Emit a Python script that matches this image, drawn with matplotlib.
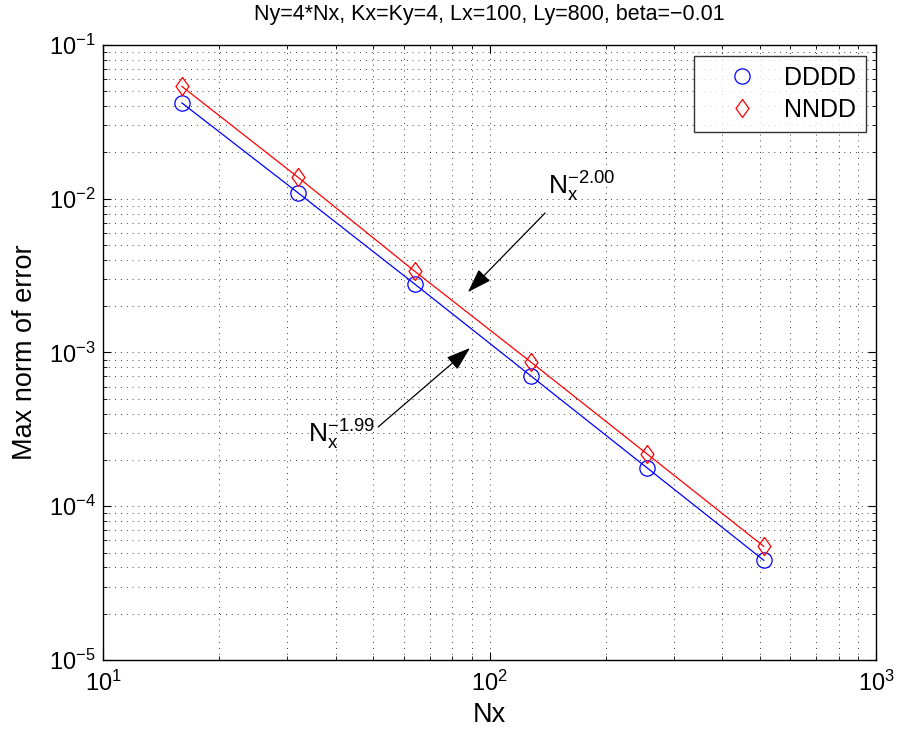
import matplotlib.pyplot as plt

plt.rcParams['font.family'] = ['Liberation Sans', 'DejaVu Sans']
plt.rcParams['mathtext.fontset'] = 'custom'
plt.rcParams['mathtext.rm'] = 'Liberation Sans'
plt.rcParams['mathtext.it'] = 'Liberation Sans:italic'
plt.rcParams['mathtext.bf'] = 'Liberation Sans:bold'

# Grid sizes and measured errors
nx = [16, 32, 64, 128, 256, 512]
err_dddd = [0.0420, 0.0109, 0.00279, 0.000703, 0.000177, 0.0000445]
err_nndd = [0.0538, 0.01375, 0.00338, 0.000865, 0.000218, 0.0000548]
labels = ['DDDD', 'NNDD']
rates = ['-2.00', '-1.99']

fig = plt.figure(figsize=(8.97, 7.33), dpi=100)
ax = fig.add_axes([0.1148, 0.0996, 0.862, 0.839])

# MATLAB style diamond (a bit taller than wide)
diamond = [(0, 1), (0.72, 0), (0, -1), (-0.72, 0), (0, 1)]

ax.loglog(nx, err_dddd, '-', color='blue', lw=0.9, marker='o', ms=11,
          mfc='none', mec='blue', mew=0.9, label=labels[0])
ax.loglog(nx, err_nndd, '-', color='red', lw=0.9, marker=diamond, ms=13,
          mfc='none', mec='red', mew=0.9, label=labels[1])

ax.set_xlim(10, 1000)
ax.set_ylim(1e-5, 1e-1)

# dotted grid, major and minor
ax.grid(True, which='both', color='black', linestyle=(0, (1, 6)), linewidth=0.6)
ax.tick_params(which='both', direction='in', top=True, right=True, labelsize=17)
ax.tick_params(which='major', length=6, pad=5)
ax.tick_params(axis='x', which='major', pad=8)
ax.tick_params(which='minor', length=3)
for s in ax.spines.values():
    s.set_linewidth(1.0)

ax.set_xlabel('Nx', fontsize=19.5, labelpad=4)
ax.set_ylabel('Max norm of error', fontsize=19.5, labelpad=8)
ax.set_title('Ny=4*Nx, Kx=Ky=4, Lx=100, Ly=800, beta=\u22120.01', fontsize=15.5, pad=18)

leg = ax.legend(loc='upper right', fontsize=18, frameon=True, fancybox=False,
                edgecolor='black', handlelength=3.0, borderpad=0.4,
                handletextpad=0.2, labelspacing=0.3, borderaxespad=0,
                bbox_to_anchor=(0.987, 0.982))
leg.get_frame().set_linewidth(1.0)
for h in leg.get_lines():
    h.set_linestyle('none')

# arrows pointing at the two lines
arrow = dict(arrowstyle='-|>,head_length=1.5,head_width=0.5', color='black',
             lw=0.9, shrinkA=0, shrinkB=0, mutation_scale=10)
ax.annotate('', xy=(87.9, 2.47e-3), xytext=(139.2, 8.08e-3), arrowprops=arrow)
ax.annotate('', xy=(89.0, 1.07e-3), xytext=(51.5, 3.28e-4), arrowprops=arrow)

ax.text(141.7, 1.058e-2, r'N$_\mathrm{x}^{' + rates[0] + '}$', fontsize=19,
        ha='left', va='baseline')
ax.text(33.9, 2.58e-4, r'N$_\mathrm{x}^{' + rates[1] + '}$', fontsize=19,
        ha='left', va='baseline')

fig.savefig('out.png', dpi=100)
